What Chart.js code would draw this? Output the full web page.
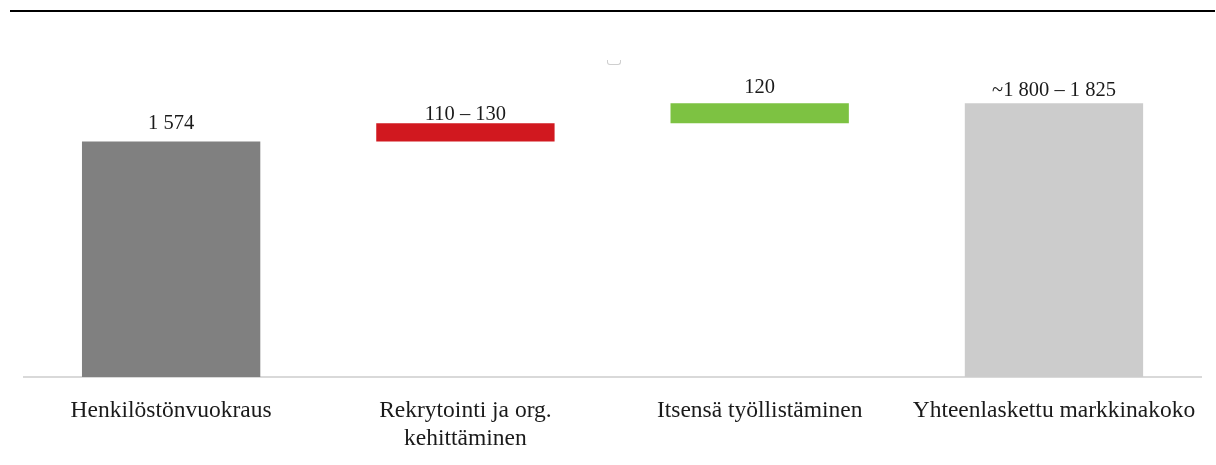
<!DOCTYPE html>
<html>
<head>
<meta charset="utf-8">
<script src="https://cdn.jsdelivr.net/npm/chart.js@4"></script>
<style>
  html, body { margin: 0; padding: 0; background: #ffffff; }
  #wrap { position: relative; width: 1216px; height: 465px; }
  #topline { position: absolute; left: 10px; top: 10px; width: 1205px; height: 0; border-top: 2.5px solid #000; }
  #mark { position: absolute; left: 607px; top: 60px; width: 12px; height: 4px; border: 1px solid #cfcfcf; border-top: none; border-radius: 0 0 3px 3px; }
  canvas { position: absolute; left: 0; top: 0; }
</style>
</head>
<body>
<div id="wrap">
  <canvas id="c" width="1216" height="465"></canvas>
  <div id="topline"></div>
  <div id="mark"></div>
</div>
<script>
const categories = [
  'Henkilöstönvuokraus',
  ['Rekrytointi ja org.', 'kehittäminen'],
  'Itsensä työllistäminen',
  'Yhteenlaskettu markkinakoko'
];
const barStart = [0, 1574, 1697, 0];
const barEnd = [1574, 1697, 1830, 1830];
const valueLabels = ['1 574', '110 – 130', '120', '~1 800 – 1 825'];
const barColors = ['#808080', '#d1181f', '#7dc242', '#cccccc'];

const FONT = 'Liberation Serif, Times New Roman, serif';

const valueLabelPlugin = {
  id: 'valueLabels',
  afterDatasetsDraw(chart, args, opts) {
    const ctx = chart.ctx;
    const meta = chart.getDatasetMeta(0);
    const gaps = opts.gaps || [];
    ctx.save();
    ctx.font = '20.5px ' + FONT;
    ctx.fillStyle = '#1a1a1a';
    ctx.textAlign = 'center';
    ctx.textBaseline = 'alphabetic';
    meta.data.forEach((bar, i) => {
      const top = Math.min(bar.y, bar.base);
      ctx.fillText(valueLabels[i], bar.x, top - (gaps[i] ?? 10));
    });
    ctx.restore();
  }
};

new Chart(document.getElementById('c'), {
  type: 'bar',
  data: {
    labels: categories,
    datasets: [{
      data: barStart.map((s, i) => [s, barEnd[i]]),
      backgroundColor: barColors,
      borderWidth: 0,
      barPercentage: 0.606,
      categoryPercentage: 1.0
    }]
  },
  options: {
    responsive: false,
    animation: false,
    layout: { padding: { left: 24, right: 14, top: 48, bottom: 0 } },
    plugins: {
      legend: { display: false },
      tooltip: { enabled: false },
      valueLabels: { gaps: [12.5, 3.5, 10, 7] }
    },
    scales: {
      x: {
        grid: { display: false, drawTicks: false },
        border: { display: true, color: '#d9d9d9', width: 2 },
        ticks: {
          color: '#1a1a1a',
          font: { family: FONT, size: 23.5, lineHeight: 1.22 },
          padding: 19,
          maxRotation: 0,
          autoSkip: false
        },
        afterFit(scale) { scale.height = 88; }
      },
      y: {
        display: false,
        min: 0,
        max: 2200
      }
    }
  },
  plugins: [valueLabelPlugin]
});
</script>
</body>
</html>
